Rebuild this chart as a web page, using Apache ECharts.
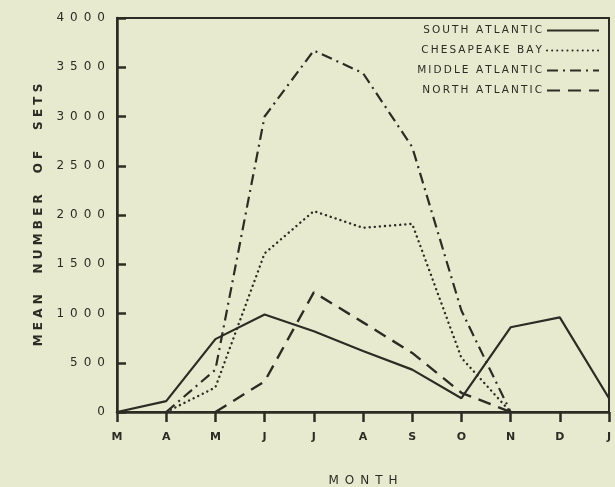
<!DOCTYPE html>
<html>
<head>
<meta charset="utf-8">
<script src="https://cdn.jsdelivr.net/npm/echarts@6/dist/echarts.min.js"></script>
<style>
html,body{margin:0;padding:0;background:#e8eacf;}
#c{width:615px;height:487px;}
</style>
</head>
<body>
<div id="c"></div>
<script>
var months = ['M','A','M','J','J','A','S','O','N','D','J'];
var yTicks = [0, 500, 1000, 1500, 2000, 2500, 3000, 3500, 4000];
var southAtlantic = [0, 110, 740, 990, 820, 620, 430, 140, 860, 960, 140];
var chesapeakeBay = [null, 0, 250, 1610, 2040, 1870, 1910, 550, 0, null, null];
var middleAtlantic = [null, 0, 430, 3000, 3670, 3440, 2690, 1030, 0, null, null];
var northAtlantic = [null, null, 0, 310, 1215, 910, 600, 195, 0, null, null];

var ink = '#2d2c24';
function sp(s, c){ return String(s).split('').join(c); }

var chart = echarts.init(document.getElementById('c'));
var baseLine = {type:'line', showSymbol:false, symbol:'none', connectNulls:false, z:3};
chart.setOption({
  backgroundColor:'#e8eacf',
  animation:false,
  textStyle:{fontFamily:'DejaVu Sans', color:ink},
  grid:{left:117, right:6, top:18, bottom:75, show:true, borderColor:ink, borderWidth:2,
        containLabel:false, outerBoundsMode:'none'},
  legend:{
    orient:'vertical', right:10, top:20, align:'right', itemGap:9,
    itemWidth:52, itemHeight:12,
    itemStyle:{opacity:0},
    textStyle:{fontSize:10.5, color:ink, fontFamily:'DejaVu Sans'},
    data:['SOUTH ATLANTIC','CHESAPEAKE BAY','MIDDLE ATLANTIC','NORTH ATLANTIC'],
    formatter:function(n){return sp(n, '\u2009');}
  },
  xAxis:{
    type:'category', data:months, boundaryGap:false,
    name:sp('MONTH','\u2002'), nameLocation:'middle', nameGap:63,
    nameTextStyle:{fontSize:12, color:ink},
    axisLine:{lineStyle:{color:ink, width:2.5}},
    axisTick:{show:true, length:10, inside:false, lineStyle:{color:ink, width:2.5}, alignWithLabel:true},
    axisLabel:{color:ink, fontSize:11, fontWeight:'bold', margin:20},
    splitLine:{show:false}
  },
  yAxis:{
    type:'value', min:0, max:4000, interval:500,
    name:'M E A N     N U M B E R     O F     S E T S', nameLocation:'middle', nameGap:72, nameRotate:90,
    nameTextStyle:{fontSize:12, color:ink, fontWeight:'bold'},
    axisLine:{show:true, lineStyle:{color:ink, width:2.5}},
    axisTick:{show:true, inside:true, length:9, lineStyle:{color:ink, width:2.5}},
    axisLabel:{color:ink, fontSize:12, margin:12, formatter:function(v){return yTicks.indexOf(v)>=0 ? sp(v,'\u2002') : '';}},
    splitLine:{show:false}
  },
  series:[
    Object.assign({}, baseLine, {name:'SOUTH ATLANTIC', data:southAtlantic,
      lineStyle:{color:ink, width:2.2, type:'solid'}, itemStyle:{color:ink}}),
    Object.assign({}, baseLine, {name:'CHESAPEAKE BAY', data:chesapeakeBay,
      lineStyle:{color:ink, width:2.4, type:[0.1,5], cap:'round'}, itemStyle:{color:ink}}),
    Object.assign({}, baseLine, {name:'MIDDLE ATLANTIC', data:middleAtlantic,
      lineStyle:{color:ink, width:2.2, type:[11,5,2,5]}, itemStyle:{color:ink}}),
    Object.assign({}, baseLine, {name:'NORTH ATLANTIC', data:northAtlantic,
      lineStyle:{color:ink, width:2.4, type:[13,8]}, itemStyle:{color:ink}})
  ]
});
</script>
</body>
</html>
